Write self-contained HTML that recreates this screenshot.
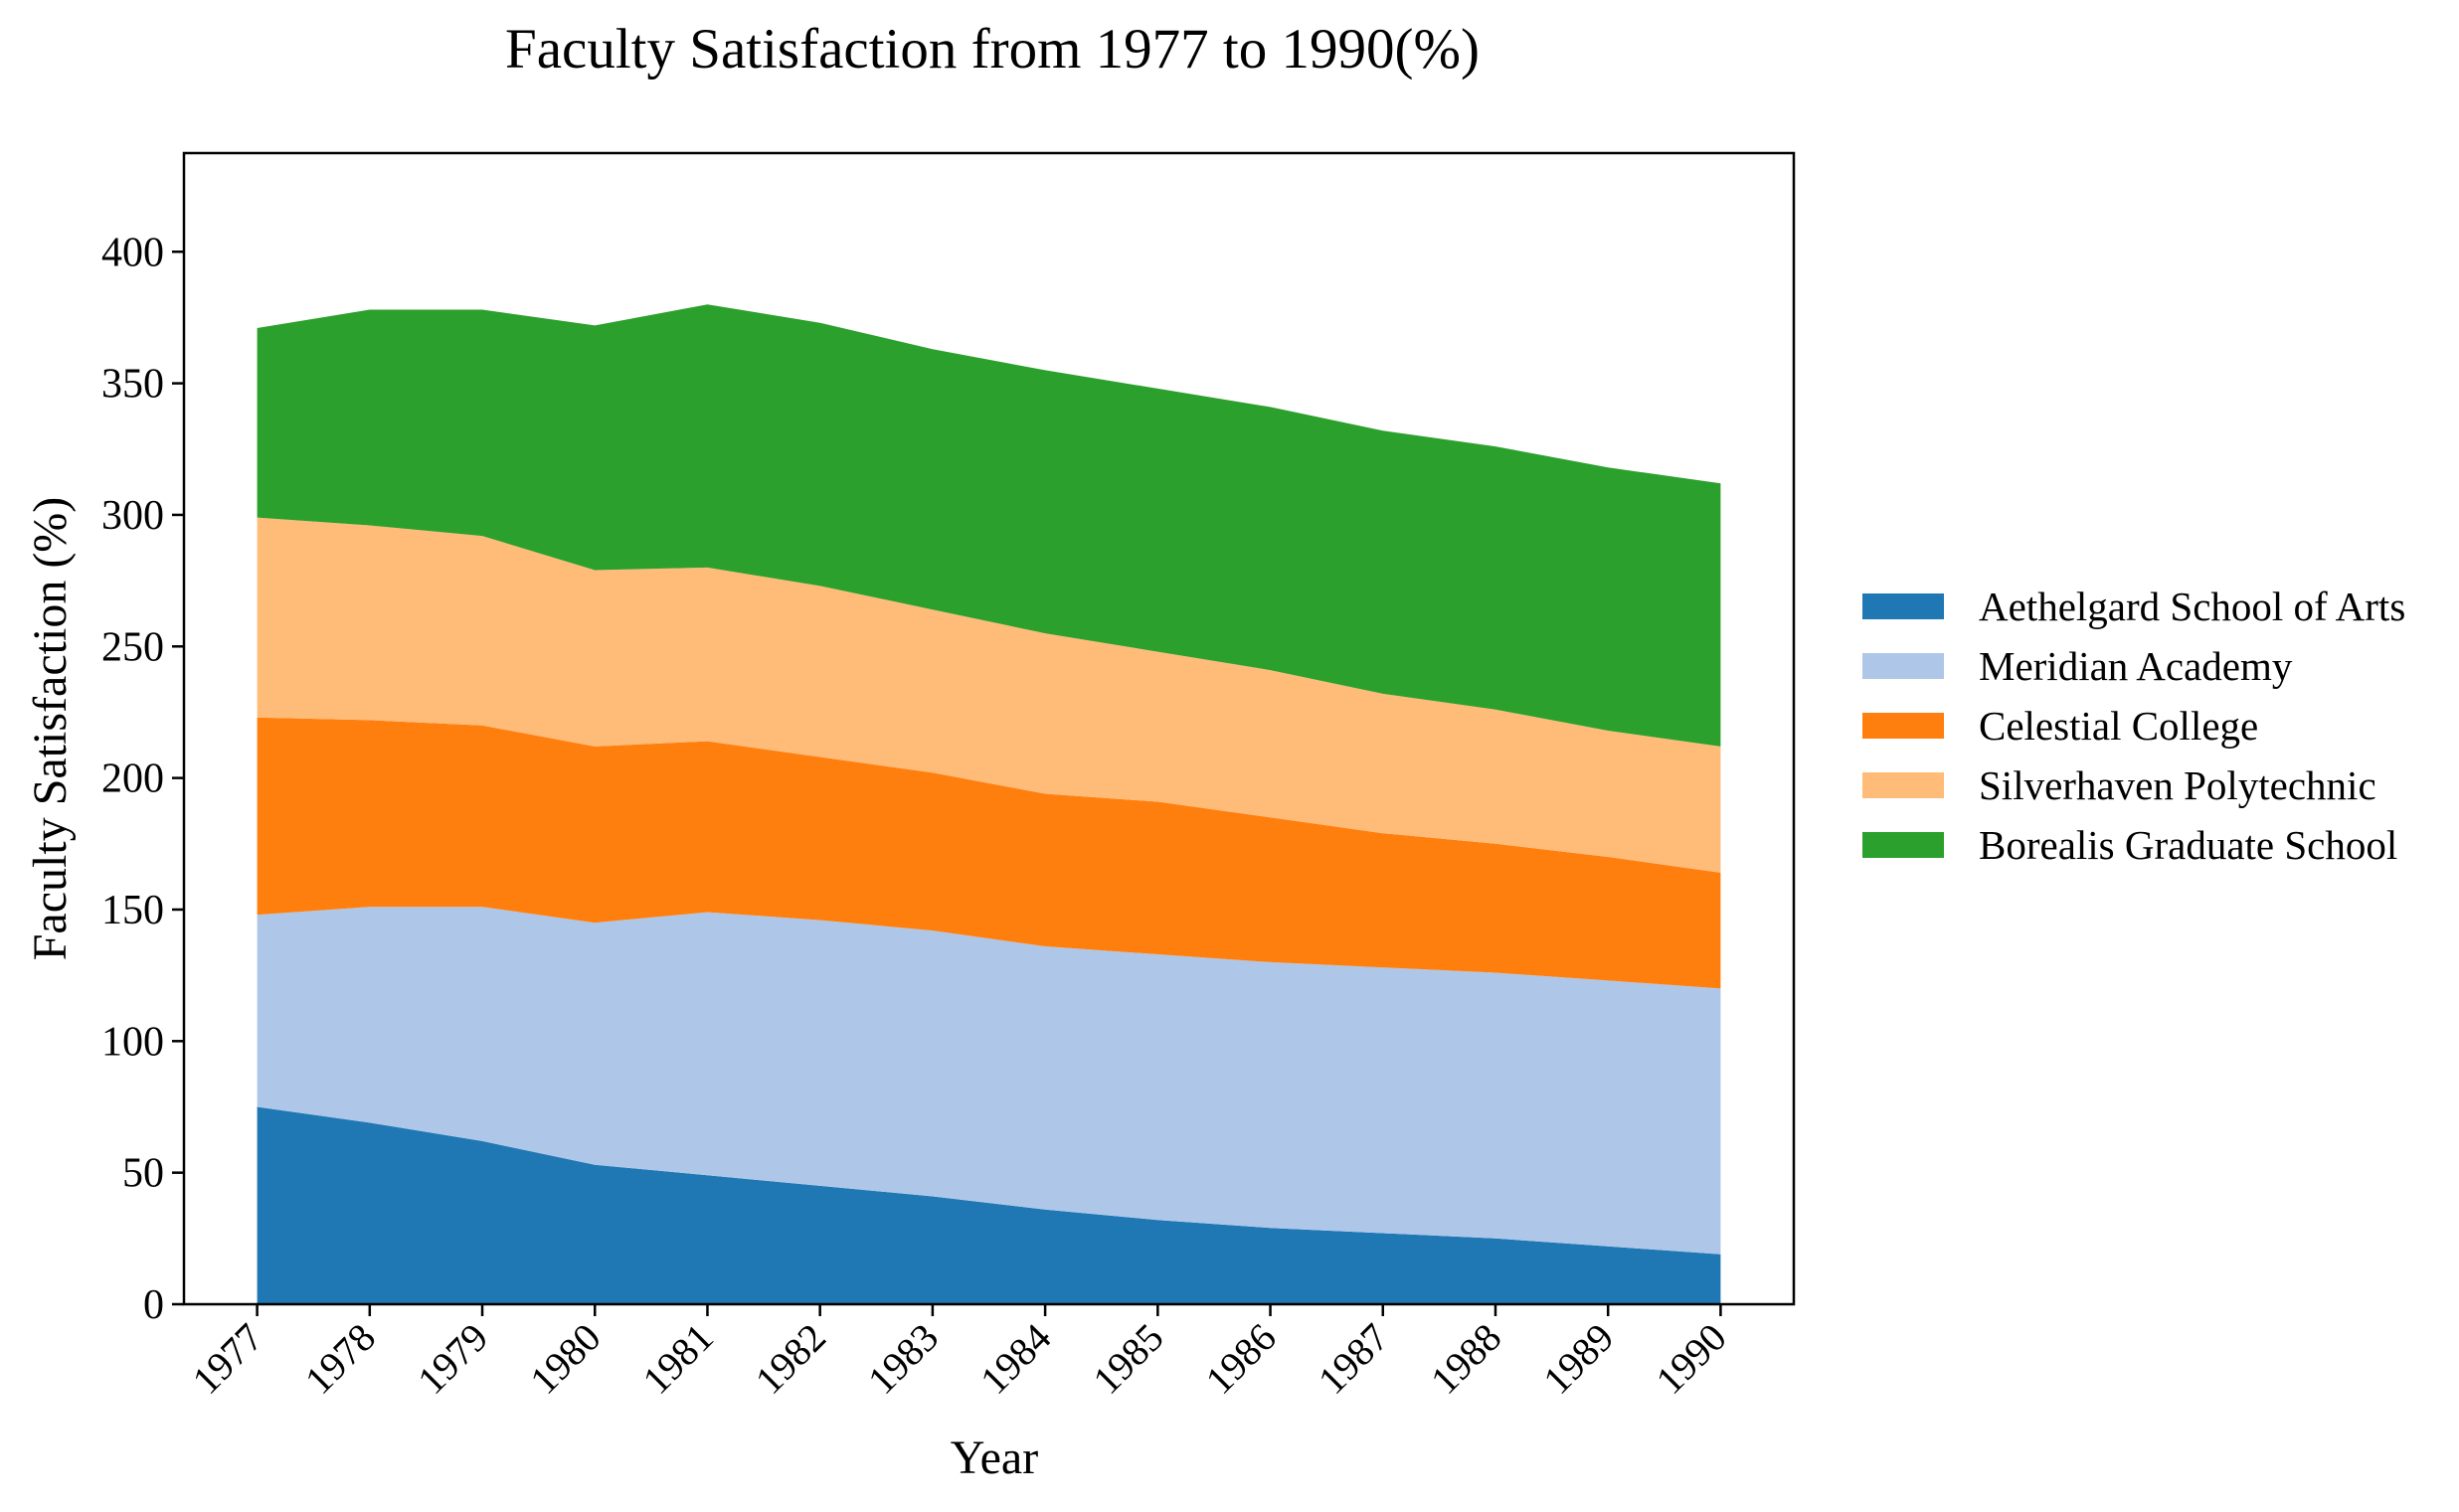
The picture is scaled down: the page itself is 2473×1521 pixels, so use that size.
<!DOCTYPE html>
<html><head><meta charset="utf-8"><style>
html,body{margin:0;padding:0;background:#fff;}
svg text{font-family:"Liberation Serif","DejaVu Serif",serif;fill:#000;}
</style></head><body>
<svg id="chart" width="2473" height="1516" viewBox="0 0 2473 1516" xmlns="http://www.w3.org/2000/svg">
<rect width="2473" height="1516" fill="#fff"/>
<text x="998" y="68" font-size="57" text-anchor="middle">Faculty Satisfaction from 1977 to 1990(%)</text>
<g id="areas"></g>
<g id="axes"></g>
<rect x="185" y="154" width="1619" height="1158" fill="none" stroke="#000" stroke-width="2.5"/>
<text x="1000" y="1482" font-size="48" text-anchor="middle">Year</text>
<text transform="translate(66,733) rotate(-90)" font-size="48" text-anchor="middle">Faculty Satisfaction (%)</text>
<g id="legend"></g>
</svg>
<script>
const years = [1977,1978,1979,1980,1981,1982,1983,1984,1985,1986,1987,1988,1989,1990];
const seriesNames = ["Aethelgard School of Arts","Meridian Academy","Celestial College","Silverhaven Polytechnic","Borealis Graduate School"];
const aethelgard = [75,69,62,53,49,45,41,36,32,29,27,25,22,19];
const meridian = [73,82,89,92,100,101,101,100,101,101,101,101,101,101];
const celestial = [75,71,69,67,65,62,60,58,58,55,51,49,47,44];
const silverhaven = [76,74,72,67,66,65,62,61,57,56,53,51,48,48];
const borealis = [72,82,86,93,100,100,99,100,100,100,100,100,100,100];
const yTicks = [0,50,100,150,200,250,300,350,400];
const colors = ["#1f77b4","#aec7e8","#ff7f0e","#ffbb78","#2ca02c"];

const NS="http://www.w3.org/2000/svg";
const L=185,R=1804,T=154,B=1312;
const xMin=years[0]-0.65, xMax=years[years.length-1]+0.65, yMax=437.5;
const xs=v=>L+(v-xMin)/(xMax-xMin)*(R-L);
const ys=v=>B-v/yMax*(B-T);
function mk(tag,attrs,parent){const e=document.createElementNS(NS,tag);for(const k in attrs)e.setAttribute(k,attrs[k]);parent.appendChild(e);return e;}

const all=[aethelgard,meridian,celestial,silverhaven,borealis];
const areas=document.getElementById('areas');
let base=years.map(()=>0);
all.forEach((s,i)=>{
  const top=base.map((b,j)=>b+s[j]);
  let d=years.map((y,j)=>(j?'L':'M')+xs(y).toFixed(1)+','+ys(top[j]).toFixed(1)).join(' ');
  for(let j=years.length-1;j>=0;j--)d+=' L'+xs(years[j]).toFixed(1)+','+ys(base[j]).toFixed(1);
  const p=mk('path',{d:d+' Z',fill:colors[i]},areas);
  
  
  base=top;
});

const axes=document.getElementById('axes');
yTicks.forEach(t=>{
  const y=ys(t);
  const ln=mk('line',{x1:L-12,x2:L,y1:y,y2:y,stroke:'#000','stroke-width':2.5},axes);
  
  
  const tx=mk('text',{x:L-20,y:y+14,'font-size':42,'text-anchor':'end'},axes);
  tx.textContent=t;
  
  
});
years.forEach(yr=>{
  const x=xs(yr);
  const ln=mk('line',{x1:x,x2:x,y1:B,y2:B+12,stroke:'#000','stroke-width':2.5},axes);
  
  
  const tx=mk('text',{transform:`translate(${x+8},${B+36}) rotate(-45)`,'font-size':40,'text-anchor':'end'},axes);
  tx.textContent=yr;
  
  
});

const lg=document.getElementById('legend');
seriesNames.forEach((n,i)=>{
  const y=610+i*60;
  const r=mk('rect',{x:1873,y:y-13,width:82,height:26,fill:colors[i]},lg);
  
  
  const t=mk('text',{x:1990,y:y+14,'font-size':41},lg);
  t.textContent=n;
  
  
});
</script>
</body></html>
